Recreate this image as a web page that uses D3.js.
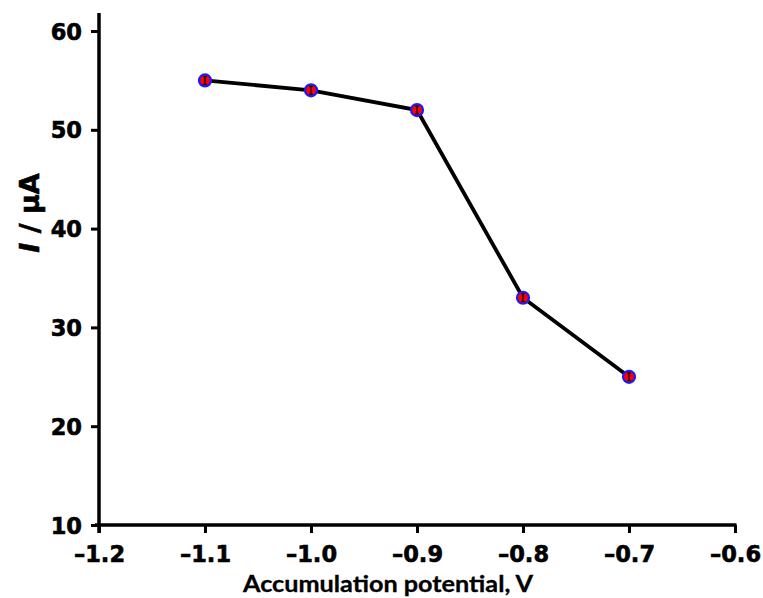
<!DOCTYPE html>
<html><head><meta charset="utf-8">
<script src="https://cdn.jsdelivr.net/npm/d3@7"></script>
<style>body{margin:0;background:#fff}svg{display:block}</style>
</head><body>
<svg id="c" width="763" height="598"></svg>
<script>
const potentials = [-1.1, -1.0, -0.9, -0.8, -0.7];
const currents = [55, 54, 52, 33, 25];
const errors = [0.4, 0.4, 0.4, 0.4, 0.4];
const xTicks = [-1.2, -1.1, -1.0, -0.9, -0.8, -0.7, -0.6];
const yTicks = [10, 20, 30, 40, 50, 60];
const xTitle = "Accumulation potential, V";

const svg = d3.select("#c");
const x = d3.scaleLinear().domain([-1.2, -0.6]).range([99, 735]);
const y = d3.scaleLinear().domain([10, 60]).range([525, 31]);
const tickFont = "'DejaVu Sans', Verdana, sans-serif";
const fmt = d => (d < 0 ? "\u2013" : "") + Math.abs(d).toFixed(1);

// x axis
const gx = svg.append("g").attr("transform", "translate(0,525)")
  .call(d3.axisBottom(x).tickValues(xTicks).tickFormat(fmt).tickSize(8).tickSizeOuter(0));
gx.select(".domain").remove();
gx.selectAll(".tick line").attr("stroke", "#000").attr("stroke-width", 3);
gx.selectAll(".tick text").attr("y", 37).attr("dy", 0)
  .attr("font-family", tickFont).attr("font-weight", "bold").attr("font-size", 22.5)
  .attr("fill", "#000").attr("stroke", "#000").attr("stroke-width", 0.6);

// y axis
const gy = svg.append("g").attr("transform", "translate(99,0)")
  .call(d3.axisLeft(y).tickValues(yTicks).tickFormat(d3.format("d")).tickSize(8).tickSizeOuter(0));
gy.select(".domain").remove();
gy.selectAll(".tick line").attr("stroke", "#000").attr("stroke-width", 3);
gy.selectAll(".tick text").attr("x", -17).attr("dy", "0.36em")
  .attr("font-family", tickFont).attr("font-weight", "bold").attr("font-size", 22.5)
  .attr("fill", "#000").attr("stroke", "#000").attr("stroke-width", 0.6);

// axis lines
svg.append("line").attr("x1", 95).attr("x2", x(-0.6) + 1.5).attr("y1", y(10)).attr("y2", y(10))
  .attr("stroke", "#000").attr("stroke-width", 3.5);
svg.append("line").attr("x1", x(-1.2)).attr("x2", x(-1.2)).attr("y1", 533).attr("y2", 13)
  .attr("stroke", "#000").attr("stroke-width", 3.5);

// data line
const pts = potentials.map((p, i) => ({p, c: currents[i], e: errors[i]}));
svg.append("path").datum(pts)
  .attr("d", d3.line().x(d => x(d.p)).y(d => y(d.c)))
  .attr("fill", "none").attr("stroke", "#000").attr("stroke-width", 3.8);

// markers
const m = svg.append("g").selectAll("g").data(pts).join("g");
m.append("circle").attr("cx", d => x(d.p)).attr("cy", d => y(d.c)).attr("r", 6)
  .attr("fill", "#f00").attr("stroke", "#1a1aff").attr("stroke-width", 2.2);
m.append("line").attr("x1", d => x(d.p)).attr("x2", d => x(d.p))
  .attr("y1", d => y(d.c - d.e)).attr("y2", d => y(d.c + d.e))
  .attr("stroke", "#000").attr("stroke-width", 1.2);
m.append("line").attr("x1", d => x(d.p) - 2).attr("x2", d => x(d.p) + 2)
  .attr("y1", d => y(d.c - d.e)).attr("y2", d => y(d.c - d.e))
  .attr("stroke", "#000").attr("stroke-width", 1);
m.append("line").attr("x1", d => x(d.p) - 2).attr("x2", d => x(d.p) + 2)
  .attr("y1", d => y(d.c + d.e)).attr("y2", d => y(d.c + d.e))
  .attr("stroke", "#000").attr("stroke-width", 1);

// x title
svg.append("text").attr("x", 243).attr("y", 592)
  .attr("textLength", 290).attr("lengthAdjust", "spacingAndGlyphs")
  .attr("font-family", "Lato, 'Open Sans', sans-serif").attr("font-weight", "bold")
  .attr("font-size", 22).attr("fill", "#000").attr("stroke", "#000").attr("stroke-width", 0.3)
  .text(xTitle);

// y title
const yt = svg.append("text").attr("transform", "translate(39,213) rotate(-90)")
  .attr("text-anchor", "middle").attr("font-family", tickFont).attr("font-weight", "bold")
  .attr("font-size", 27).attr("fill", "#000").attr("stroke", "#000").attr("stroke-width", 0.6);
yt.append("tspan").attr("font-style", "italic").text("I");
yt.append("tspan").text(" / \u03bcA");
</script>
</body></html>
